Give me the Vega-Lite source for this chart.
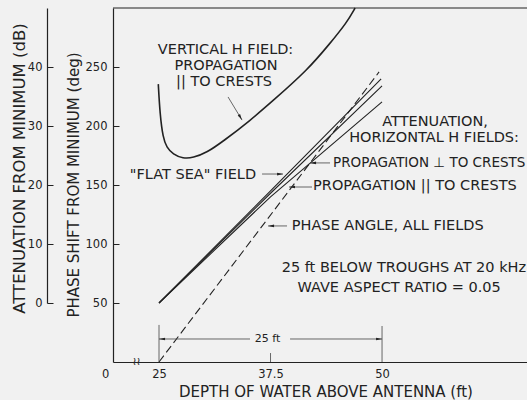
{
  "$schema": "https://vega.github.io/schema/vega-lite/v6.json",
  "width": 414,
  "height": 354,
  "autosize": {"type": "none"},
  "padding": {"left": 113, "top": 8, "right": 0, "bottom": 38},
  "background": "#f1f1f1",
  "config": {
    "view": {"stroke": null},
    "font": "DejaVu Sans",
    "axis": {"labelColor": "#222", "titleColor": "#222", "domainColor": "#222", "tickColor": "#222", "grid": false, "titleFontWeight": "normal"}
  },
  "datasets": {
    "att": [
      {"d": 24.92, "a": 37.1, "s": "vertical"},
      {"d": 25.11, "a": 32.0, "s": "vertical"},
      {"d": 25.45, "a": 28.0, "s": "vertical"},
      {"d": 25.85, "a": 26.4, "s": "vertical"},
      {"d": 26.57, "a": 25.2, "s": "vertical"},
      {"d": 27.69, "a": 24.5, "s": "vertical"},
      {"d": 28.81, "a": 24.6, "s": "vertical"},
      {"d": 30.38, "a": 25.5, "s": "vertical"},
      {"d": 32.18, "a": 27.4, "s": "vertical"},
      {"d": 35.2, "a": 30.9, "s": "vertical"},
      {"d": 37.78, "a": 34.3, "s": "vertical"},
      {"d": 41.59, "a": 39.4, "s": "vertical"},
      {"d": 44.17, "a": 44.0, "s": "vertical"},
      {"d": 46.08, "a": 47.6, "s": "vertical"},
      {"d": 46.98, "a": 50.0, "s": "vertical"},
      {"d": 25, "a": 0, "s": "flat"},
      {"d": 37.5, "a": 19.0, "s": "flat"},
      {"d": 49.9, "a": 38.0, "s": "flat"},
      {"d": 25, "a": 0, "s": "perp"},
      {"d": 37.5, "a": 18.6, "s": "perp"},
      {"d": 50, "a": 36.8, "s": "perp"},
      {"d": 25, "a": 0, "s": "par"},
      {"d": 37.5, "a": 18.0, "s": "par"},
      {"d": 50, "a": 34.1, "s": "par"}
    ],
    "phase": [
      {"d": 25, "p": 0},
      {"d": 49.67, "p": 245.8}
    ],
    "seg": [
      {"d": 32.74, "d2": 34.31, "p": 224.6, "p2": 205.0},
      {"d": 36.55, "d2": 38.9, "p": 159.3, "p2": 159.3},
      {"d": 44.17, "d2": 41.93, "p": 168.7, "p2": 168.7},
      {"d": 42.15, "d2": 39.58, "p": 148.3, "p2": 148.3},
      {"d": 39.35, "d2": 37.22, "p": 115.3, "p2": 115.3},
      {"d": 25, "d2": 35.2, "p": 19.5, "p2": 19.5},
      {"d": 39.69, "d2": 50, "p": 19.5, "p2": 19.5},
      {"d": 25, "d2": 25, "p": 0, "p2": 31.4},
      {"d": 50, "d2": 50, "p": 0, "p2": 30.5},
      {"d": 37.5, "d2": 37.5, "p": 0, "p2": 7.6}
    ],
    "frame": [
      {"d": 19.843, "d2": 66.25, "p": 300, "p2": 300}
    ],
    "headR": [
      {"d": 38.57, "p": 159.3},
      {"d": 49.67, "p": 19.5}
    ],
    "headL": [
      {"d": 42.27, "p": 168.7},
      {"d": 39.91, "p": 148.3},
      {"d": 37.56, "p": 115.3},
      {"d": 25.34, "p": 19.5}
    ],
    "headV": [
      {"d": 34.13, "p": 207.3}
    ],
    "txtC": [
      {"d": 32.46, "p": 264.4, "t": "VERTICAL H FIELD:"},
      {"d": 32.51, "p": 250.9, "t": "PROPAGATION"},
      {"d": 32.29, "p": 237.3, "t": "|| TO  CRESTS"},
      {"d": 55.95, "p": 203.7, "t": "ATTENUATION,"},
      {"d": 55.83, "p": 189.6, "t": "HORIZONTAL H FIELDS:"},
      {"d": 52.45, "p": 79.4, "t": "25 ft BELOW TROUGHS AT 20 kHz"},
      {"d": 51.91, "p": 62.5, "t": "WAVE ASPECT RATIO = 0.05"}
    ],
    "txtS": [
      {"d": 37.16, "p": 19.5, "t": "25 ft"}
    ],
    "txtL": [
      {"d": 42.27, "p": 149.4, "t": "PROPAGATION || TO CRESTS"},
      {"d": 39.88, "p": 115.3, "t": "PHASE ANGLE, ALL FIELDS"}
    ],
    "txtPerp": [
      {"d": 44.51, "p": 168.9, "t": "PROPAGATION ⊥ TO CRESTS"}
    ],
    "txtR": [
      {"d": 35.88, "p": 158.5, "t": "\"FLAT SEA\" FIELD"}
    ],
    "brk": [
      {"d": 22.48, "p": 0, "t": "≀≀"}
    ]
  },
  "layer": [
    {
      "data": {"name": "phase"},
      "mark": {"type": "line", "color": "#222", "strokeWidth": 1.1, "strokeDash": [8, 4]},
      "encoding": {
        "x": {
          "field": "d", "type": "quantitative",
          "scale": {"domain": [19.843, 66.25], "nice": false, "zero": false},
          "axis": {
            "title": "DEPTH OF WATER ABOVE ANTENNA (ft)",
            "values": [19.85, 25, 37.5, 50],
            "labelExpr": "datum.value < 20 ? '0' : format(datum.value, '.1~f')",
            "labelOffset": {"condition": {"test": "datum.value < 20", "value": -8}, "value": 0},
            "labelFlush": false,
            "ticks": false,
            "labelPadding": 6,
            "labelFontSize": 11.5,
            "titleFontSize": 15,
            "titleBaseline": "alphabetic",
            "titleX": 212.5,
            "titleY": 34,
            "domain": true,
            "domainWidth": 1.2
          }
        },
        "y": {
          "field": "p", "type": "quantitative",
          "scale": {"domain": [0, 300], "nice": false, "zero": false},
          "axis": {
            "title": "PHASE SHIFT FROM MINIMUM (deg)",
            "values": [50, 100, 150, 200, 250],
            "tickSize": -6,
            "labelPadding": 12,
            "labelFontSize": 11.5,
            "titleFontSize": 15,
            "titleBaseline": "alphabetic",
            "titleAngle": -90,
            "titleAlign": "center",
            "titleX": -35,
            "titleY": 176.5,
            "domain": true,
            "domainWidth": 1.2
          }
        }
      }
    },
    {
      "data": {"name": "att"},
      "transform": [{"filter": "datum.s === 'vertical'"}],
      "mark": {"type": "line", "color": "#222", "strokeWidth": 1.6, "interpolate": "basis"},
      "encoding": {
        "x": {"field": "d", "type": "quantitative"},
        "y": {
          "field": "a", "type": "quantitative",
          "scale": {"domain": [0, 50], "range": [295, 0], "nice": false, "zero": false},
          "axis": {
            "orient": "left",
            "offset": 66,
            "title": "ATTENUATION FROM MINIMUM (dB)",
            "values": [0, 10, 20, 30, 40],
            "tickSize": -6,
            "labelPadding": 11,
            "labelFontSize": 11.5,
            "titleFontSize": 16.5,
            "titleBaseline": "alphabetic",
            "titleAngle": -90,
            "titleAlign": "center",
            "titleX": -23,
            "titleY": 160,
            "domain": true,
            "domainWidth": 1.2
          }
        }
      }
    },
    {
      "data": {"name": "att"},
      "transform": [{"filter": "datum.s !== 'vertical'"}],
      "mark": {"type": "line", "color": "#222", "strokeWidth": 1.1},
      "encoding": {
        "x": {"field": "d", "type": "quantitative"},
        "y": {"field": "a", "type": "quantitative", "scale": {"domain": [0, 50], "range": [295, 0], "nice": false, "zero": false}, "axis": null},
        "detail": {"field": "s"}
      }
    },
    {
      "data": {"name": "seg"},
      "mark": {"type": "rule", "color": "#444", "strokeWidth": 0.8},
      "encoding": {
        "x": {"field": "d", "type": "quantitative"},
        "x2": {"field": "d2"},
        "y": {"field": "p", "type": "quantitative", "scale": {"domain": [0, 300], "nice": false, "zero": false}, "axis": null},
        "y2": {"field": "p2"}
      }
    },
    {
      "data": {"name": "frame"},
      "mark": {"type": "rule", "color": "#222", "strokeWidth": 1.2},
      "encoding": {
        "x": {"field": "d", "type": "quantitative"},
        "x2": {"field": "d2"},
        "y": {"field": "p", "type": "quantitative", "scale": {"domain": [0, 300], "nice": false, "zero": false}, "axis": null},
        "y2": {"field": "p2"}
      }
    },
    {
      "data": {"name": "headR"},
      "mark": {"type": "point", "shape": "M0,-1L-0.45,1L0.45,1Z", "filled": true, "color": "#222", "opacity": 1, "size": 36, "angle": 90},
      "encoding": {
        "x": {"field": "d", "type": "quantitative"},
        "y": {"field": "p", "type": "quantitative", "scale": {"domain": [0, 300], "nice": false, "zero": false}, "axis": null}
      }
    },
    {
      "data": {"name": "headL"},
      "mark": {"type": "point", "shape": "M0,-1L-0.45,1L0.45,1Z", "filled": true, "color": "#222", "opacity": 1, "size": 36, "angle": 270},
      "encoding": {
        "x": {"field": "d", "type": "quantitative"},
        "y": {"field": "p", "type": "quantitative", "scale": {"domain": [0, 300], "nice": false, "zero": false}, "axis": null}
      }
    },
    {
      "data": {"name": "headV"},
      "mark": {"type": "point", "shape": "M0,-1L-0.45,1L0.45,1Z", "filled": true, "color": "#222", "opacity": 1, "size": 36, "angle": 148.7},
      "encoding": {
        "x": {"field": "d", "type": "quantitative"},
        "y": {"field": "p", "type": "quantitative", "scale": {"domain": [0, 300], "nice": false, "zero": false}, "axis": null}
      }
    },
    {
      "data": {"name": "txtC"},
      "mark": {"type": "text", "align": "center", "baseline": "middle", "fontSize": 14.5, "color": "#222"},
      "encoding": {
        "x": {"field": "d", "type": "quantitative"},
        "y": {"field": "p", "type": "quantitative", "scale": {"domain": [0, 300], "nice": false, "zero": false}, "axis": null},
        "text": {"field": "t"}
      }
    },
    {
      "data": {"name": "txtS"},
      "mark": {"type": "text", "align": "center", "baseline": "middle", "fontSize": 11, "color": "#222"},
      "encoding": {
        "x": {"field": "d", "type": "quantitative"},
        "y": {"field": "p", "type": "quantitative", "scale": {"domain": [0, 300], "nice": false, "zero": false}, "axis": null},
        "text": {"field": "t"}
      }
    },
    {
      "data": {"name": "txtL"},
      "mark": {"type": "text", "align": "left", "baseline": "middle", "fontSize": 14.5, "color": "#222"},
      "encoding": {
        "x": {"field": "d", "type": "quantitative"},
        "y": {"field": "p", "type": "quantitative", "scale": {"domain": [0, 300], "nice": false, "zero": false}, "axis": null},
        "text": {"field": "t"}
      }
    },
    {
      "data": {"name": "txtPerp"},
      "mark": {"type": "text", "align": "left", "baseline": "middle", "fontSize": 13.5, "color": "#222"},
      "encoding": {
        "x": {"field": "d", "type": "quantitative"},
        "y": {"field": "p", "type": "quantitative", "scale": {"domain": [0, 300], "nice": false, "zero": false}, "axis": null},
        "text": {"field": "t"}
      }
    },
    {
      "data": {"name": "txtR"},
      "mark": {"type": "text", "align": "right", "baseline": "middle", "fontSize": 14.5, "color": "#222"},
      "encoding": {
        "x": {"field": "d", "type": "quantitative"},
        "y": {"field": "p", "type": "quantitative", "scale": {"domain": [0, 300], "nice": false, "zero": false}, "axis": null},
        "text": {"field": "t"}
      }
    },
    {
      "data": {"name": "brk"},
      "mark": {"type": "text", "align": "center", "baseline": "middle", "fontSize": 11, "color": "#222"},
      "encoding": {
        "x": {"field": "d", "type": "quantitative"},
        "y": {"field": "p", "type": "quantitative", "scale": {"domain": [0, 300], "nice": false, "zero": false}, "axis": null},
        "text": {"field": "t"}
      }
    }
  ],
  "resolve": {"scale": {"y": "independent"}}
}
